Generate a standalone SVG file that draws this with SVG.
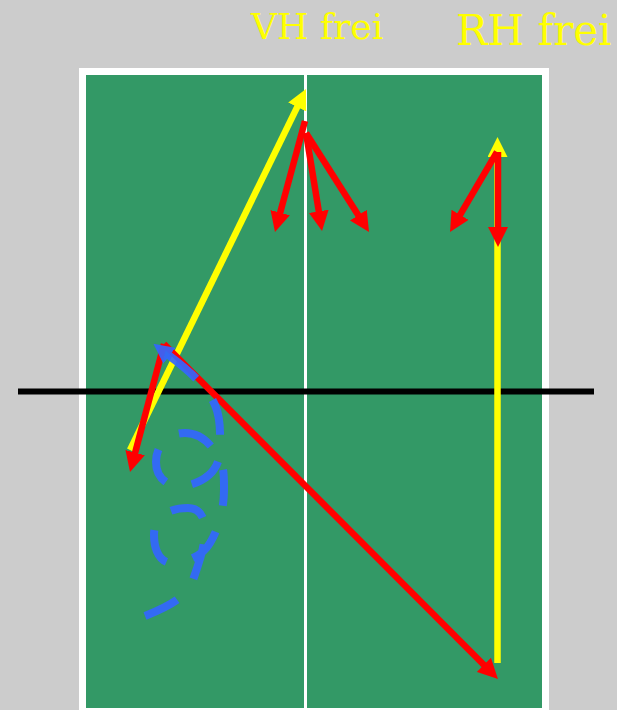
<svg xmlns="http://www.w3.org/2000/svg" width="617" height="710" viewBox="0 0 617 710">
  <defs>
    <style>
      .lbl { font-family: "DejaVu Serif", "Liberation Serif", serif; fill: #ffff00; }
      .y { stroke: #ffff00; stroke-width: 6.5; fill: none; }
      .r { stroke: #ff0000; stroke-width: 6.5; fill: none; }
      .b { stroke: #3366ff; stroke-width: 8; fill: none; stroke-dasharray: 36 27; stroke-opacity: 0.92; }
    </style>
    <marker id="ay" markerUnits="userSpaceOnUse" viewBox="0 0 20 20" refX="8" refY="10" markerWidth="20" markerHeight="20" orient="auto">
      <path d="M0,0 L20,10 L0,20 z" fill="#ffff00"/>
    </marker>
    <marker id="ar" markerUnits="userSpaceOnUse" viewBox="0 0 20 20" refX="8" refY="10" markerWidth="20" markerHeight="20" orient="auto">
      <path d="M0,0 L20,10 L0,20 z" fill="#ff0000"/>
    </marker>
    <marker id="ab" markerUnits="userSpaceOnUse" viewBox="0 0 20 20" refX="8" refY="10" markerWidth="20" markerHeight="20" orient="auto">
      <path d="M0,0 L20,10 L0,20 z" fill="#3366ff" fill-opacity="0.92"/>
    </marker>
  </defs>
  <rect x="0" y="0" width="617" height="710" fill="#cccccc"/>
  <g id="table">
    <rect x="79" y="68" width="470" height="650" fill="#ffffff"/>
    <rect x="86" y="75" width="456" height="633" fill="#339966"/>
    <rect x="304" y="75" width="3" height="633" fill="#ffffff"/>
  </g>
  <g id="net">
    <line x1="18" y1="391.5" x2="594" y2="391.5" stroke="#000000" stroke-width="6"/>
  </g>
  <g id="label-vh">
    <text class="lbl" x="251" y="39" font-size="36">VH frei</text>
  </g>
  <g id="label-rh">
    <text class="lbl" x="456" y="45" font-size="42">RH frei</text>
  </g>
  <g id="connectors">
    <line class="y" x1="130" y1="450" x2="300.7" y2="99.8" marker-end="url(#ay)"/>
    <line class="y" x1="497.5" y1="663" x2="497.5" y2="149" marker-end="url(#ay)"/>
    <line class="r" x1="305" y1="121" x2="278.1" y2="220.4" marker-end="url(#ar)"/>
    <line class="r" x1="306" y1="133" x2="320.1" y2="219.2" marker-end="url(#ar)"/>
    <line class="r" x1="306" y1="133" x2="362.6" y2="221.9" marker-end="url(#ar)"/>
    <line class="r" x1="498" y1="152" x2="498" y2="235" marker-end="url(#ar)"/>
    <line class="r" x1="497" y1="152" x2="456.1" y2="221.7" marker-end="url(#ar)"/>
    <line class="r" x1="164" y1="344" x2="489.5" y2="670.5" marker-end="url(#ar)"/>
    <line class="r" x1="164" y1="344" x2="133.1" y2="460.4" marker-end="url(#ar)"/>
    <path class="b" d="M145,616 C163.6,608.6 186.4,598.8 193,580 C198.6,563.9 205,547.1 205,530 C205,518 200,508 188,508 C169,508 154,516 154,535 C154,550 160,564.5 175,563 C189,561.6 202.9,555 210,543 C219.2,527.5 224,508 224,490 C224,479 224.5,467.6 219,458 C211,444.1 201,433 185,433 C168,433 156,445 156,462 C156,478 169.3,489.1 185,486 C204.6,482 220,470 220,450 C220,435 221.2,418.7 215,405 C204.7,382.2 183,366 163,351" marker-end="url(#ab)"/>
  </g>
</svg>
